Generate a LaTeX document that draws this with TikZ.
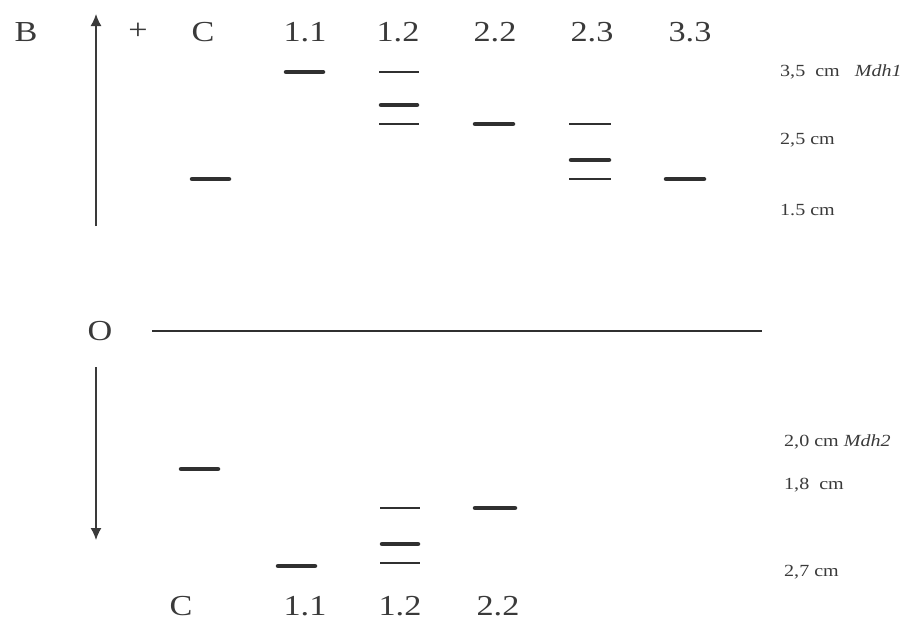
\documentclass[tikz,border=0pt]{standalone}
\usepackage{fontspec}
\setmainfont[FakeStretch=1.18]{Liberation Serif}
\usepackage{tikz}
\usetikzlibrary{arrows, arrows.meta}
\definecolor{band}{HTML}{303030}
\definecolor{ink}{HTML}{3A3A3A}

\begin{document}
\begin{tikzpicture}[x=1pt, y=-1pt,
		lane/.style={text=ink, font=\fontsize{29}{30}\selectfont, inner sep=0pt},
		dist/.style={text=ink, anchor=west, font=\fontsize{17}{19}\selectfont, inner sep=0pt},
		thickband/.style={band, line width=4.5pt, line cap=round},
		thinband/.style={band, line width=2pt},
		migr/.style={ink, line width=1.4pt, -{Latex[length=12pt, width=11pt]}}]
		
		\useasboundingbox (0,0) rectangle (909,624);
		
		% upper gel: anodal side
		\node[lane] (tB) at (26,32) {B};
		\node[lane] (tplus) at (138,31) {+};
		\node[lane] (tC) at (203,32) {C};
		\node[lane] (t11) at (305,32) {1.1};
		\node[lane] (t12) at (398,32) {1.2};
		\node[lane] (t22) at (495,32) {2.2};
		\node[lane] (t23) at (592,32) {2.3};
		\node[lane] (t33) at (690,32) {3.3};
		
		\coordinate (upS) at (96,226);
		\coordinate (upE) at (96,14);
		\draw[migr] (upS) -- (upE);
		
		\draw[thickband] (192,179) -- (229,179);
		\draw[thickband] (286,72) -- (323,72);
		\draw[thinband] (379,72) -- (419,72);
		\draw[thickband] (381,105) -- (417,105);
		\draw[thinband] (379,124) -- (419,124);
		\draw[thickband] (475,124) -- (513,124);
		\draw[thinband] (569,124) -- (611,124);
		\draw[thickband] (571,160) -- (609,160);
		\draw[thinband] (569,179) -- (611,179);
		\draw[thickband] (666,179) -- (704,179);
		
		\node[dist] (d35) at (780,72) {3,5~~cm~~~\textit{Mdh1}};
		\node[dist] (d25) at (780,140) {2,5 cm};
		\node[dist] (d15) at (780,210) {1.5 cm};
		
		% origin
		\node[lane] (tO) at (100,331) {O};
		\coordinate (oS) at (152,331);
		\coordinate (oE) at (762,331);
		\draw[band, line width=2pt] (oS) -- (oE);
		
		% lower gel: cathodal side
		\coordinate (dnS) at (96,367);
		\coordinate (dnE) at (96,540);
		\draw[migr] (dnS) -- (dnE);
		
		\draw[thickband] (181,469) -- (218,469);
		\draw[thickband] (278,566) -- (315,566);
		\draw[thinband] (380,508) -- (420,508);
		\draw[thickband] (382,544) -- (418,544);
		\draw[thinband] (380,563) -- (420,563);
		\draw[thickband] (475,508) -- (515,508);
		
		\node[dist] (d20) at (784,442) {2,0 cm \textit{Mdh2}};
		\node[dist] (d18) at (784,485) {1,8~~cm};
		\node[dist] (d27) at (784,572) {2,7 cm};
		
		\node[lane] (bC) at (181,606) {C};
		\node[lane] (b11) at (305,606) {1.1};
		\node[lane] (b12) at (400,606) {1.2};
		\node[lane] (b22) at (498,606) {2.2};
		
	\end{tikzpicture}
\end{document}
